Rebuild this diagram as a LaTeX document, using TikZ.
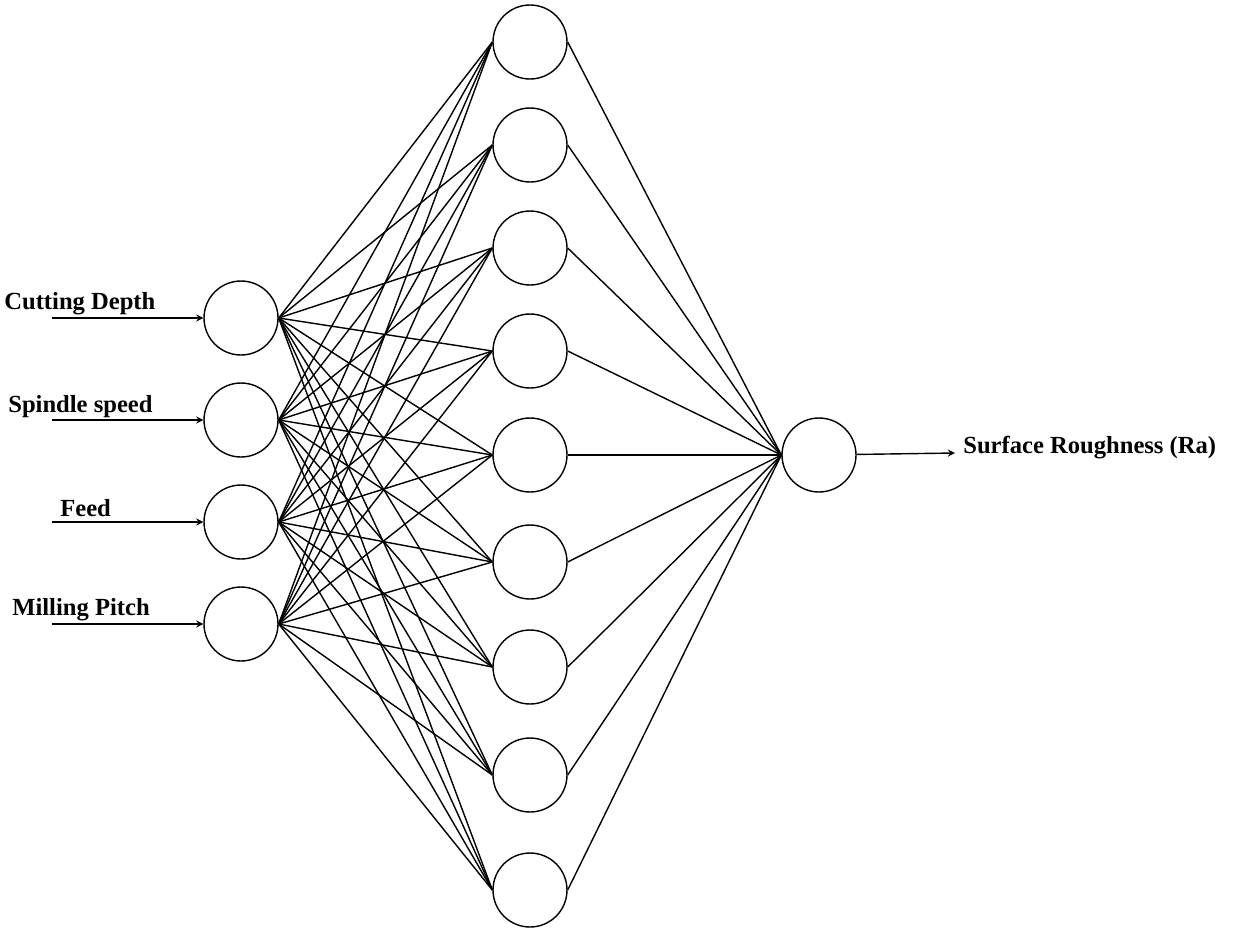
\documentclass[tikz,border=0pt]{standalone}
\usepackage{fontspec}
\setmainfont{Liberation Serif}
\usetikzlibrary{arrows}
\tikzstyle{neuron} = [circle, minimum size=1.48cm, inner sep=0pt, draw=black, line width=0.8pt]
\tikzstyle{link} = [line width=0.8pt]
\tikzstyle{arrow} = [line width=0.8pt,->,>=stealth]
\tikzstyle{lbl} = [anchor=west, inner sep=0pt, font=\fontsize{14}{16}\selectfont\bfseries]

\begin{document}
\begin{tikzpicture}[x=0.02cm, y=-0.02cm]
    \useasboundingbox (0,0) rectangle (1247,933);
    % input layer
    \foreach \i/\y in {1/318, 2/420, 3/522, 4/624} {
        \node (in\i) [neuron] at (241,\y) {};
        \coordinate (s\i) at (52,\y);
        \draw [arrow] (s\i) -- (in\i);
    }
    % hidden layer
    \foreach \j/\y in {1/42, 2/145, 3/248, 4/351, 5/455, 6/562, 7/667, 8/775, 9/890} {
        \node (hid\j) [neuron] at (530,\y) {};
    }
    % output layer
    \node (out1) [neuron] at (819,455) {};
    \coordinate (t1) at (955,453);
    \draw [arrow] (out1) -- (t1);

    \foreach \i in {1,...,4} {
        \foreach \j in {1,...,9} {
            \draw [link] (in\i.east) -- (hid\j.west);
        }
    }
    \foreach \j in {1,...,9} {
        \draw [link] (hid\j.east) -- (out1.west);
    }

    \node [lbl] at (4,304) {Cutting Depth};
    \node [lbl] at (8,407) {Spindle speed};
    \node [lbl] at (60,508) {Feed};
    \node [lbl] at (12,610) {Milling Pitch};
    \node [lbl] at (963,448) {Surface Roughness (Ra)};
\end{tikzpicture}
\end{document}
